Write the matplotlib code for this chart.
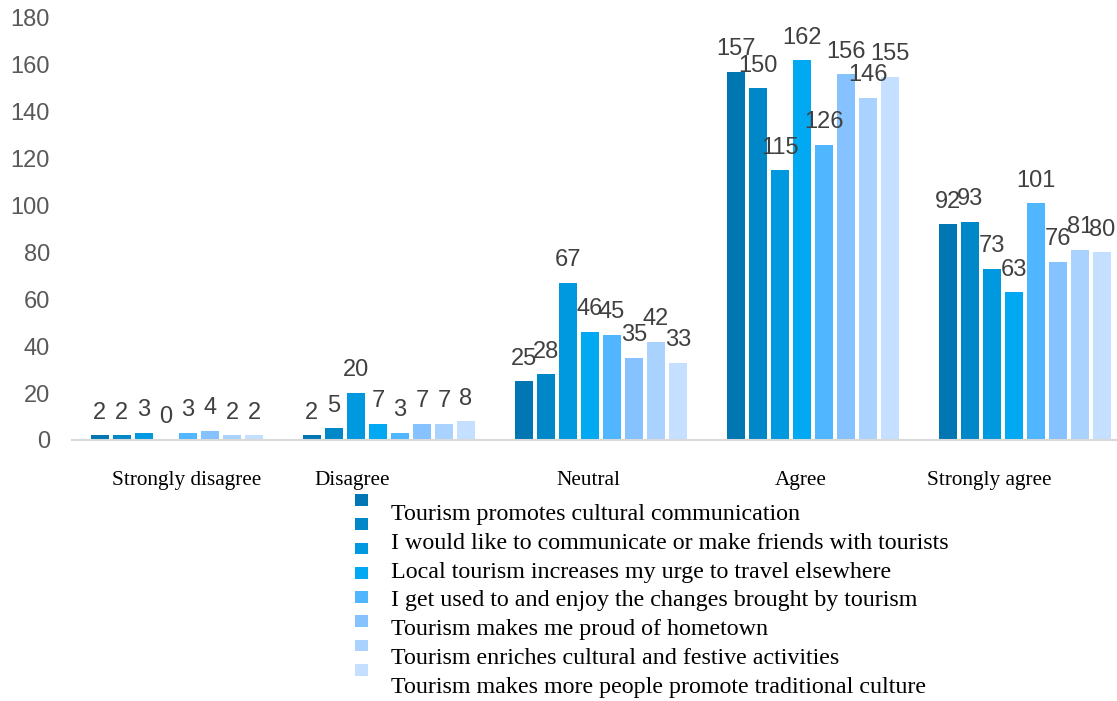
import numpy as np
import matplotlib
matplotlib.use("Agg")
import matplotlib.pyplot as plt

categories = ["Strongly disagree", "Disagree", "Neutral", "Agree", "Strongly agree"]
statements = [
    "Tourism promotes cultural communication",
    "I would like to communicate or make friends with tourists",
    "Local tourism increases my urge to travel elsewhere",
    "I get used to and enjoy the changes brought by tourism",
    "Tourism makes me proud of hometown",
    "Tourism enriches cultural and festive activities",
    "Tourism makes more people promote traditional culture",
]
# one row per series, one column per category
s1 = [2, 2, 25, 157, 92]
s2 = [2, 5, 28, 150, 93]
s3 = [3, 20, 67, 115, 73]
s4 = [0, 7, 46, 162, 63]
s5 = [3, 3, 45, 126, 101]
s6 = [4, 7, 35, 156, 76]
s7 = [2, 7, 42, 146, 81]
s8 = [2, 8, 33, 155, 80]
series = [s1, s2, s3, s4, s5, s6, s7, s8]

colors = ["#0077B3", "#0087C7", "#0099DF", "#00A9F2",
          "#4FB6FF", "#86C2FF", "#A9D2FF", "#C4DFFF"]
label_shift = [0.047, -0.175, -0.061, -0.057, -0.17]

W, H = 1117, 701
fig = plt.figure(figsize=(W / 100, H / 100), dpi=100)
ax = fig.add_axes([72 / W, (H - 440) / H, (W - 72) / W, 422 / H])

x = np.arange(len(categories))
pitch = 0.1038
bars = []
for i, vals in enumerate(series):
    pos = x + (i - 3.5) * pitch
    b = ax.bar(pos, vals, width=0.086, color=colors[i], zorder=2)
    bars.append(b)
    for px, v in zip(pos, vals):
        ax.annotate(str(v), (px, v), xytext=(0, 12), textcoords="offset points",
                    ha="center", va="baseline", fontsize=17, color="#404040",
                    family="Liberation Sans")

ax.set_xlim(-0.495, 4.434)
ax.set_ylim(0, 180)
ax.set_yticks(range(0, 181, 20))
ax.set_xticks(x + np.array(label_shift))
ax.set_xticklabels(categories, family="Liberation Serif", fontsize=15.3)
ax.tick_params(axis="x", length=0, pad=22)
ax.tick_params(axis="y", length=0, pad=16, labelsize=17, labelcolor="#595959")
for lab in ax.get_yticklabels():
    lab.set_family("Liberation Sans")
for side in ["top", "right", "left"]:
    ax.spines[side].set_visible(False)
ax.spines["bottom"].set_color("#D9D9D9")
ax.spines["bottom"].set_linewidth(1.5)

# colour key: swatches on the left, statements listed beside them
fig.legend(handles=bars, labels=[""] * len(bars), loc="upper left",
           bbox_to_anchor=(355 / W, (H - 494) / H), frameon=False,
           fontsize=9.4, handlelength=1.0, handleheight=1.0,
           labelspacing=0.84, handletextpad=0.2, borderpad=0, borderaxespad=0)
for k, text in enumerate(statements):
    fig.text(391 / W, (H - 520 - 28.8 * k) / H, text, family="Liberation Serif",
             fontsize=17.3, va="baseline", ha="left", color="black")

fig.savefig("out.png", dpi=100)
